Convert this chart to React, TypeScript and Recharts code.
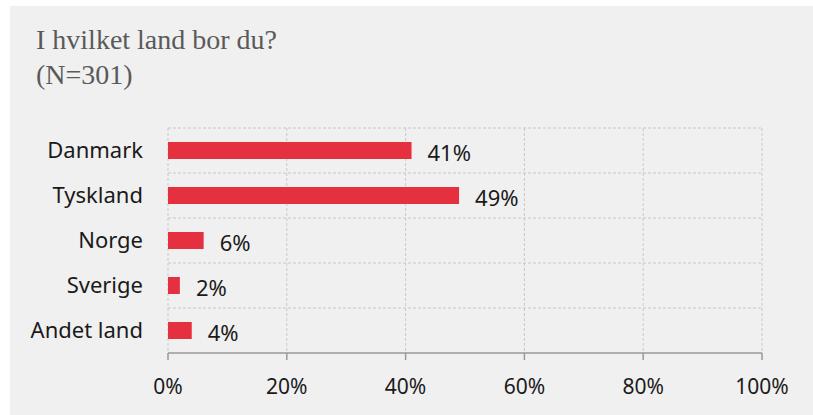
import {
	Bar,
	BarChart,
	CartesianGrid,
	LabelList,
	XAxis,
	YAxis,
} from "recharts";

const lande = ["Danmark", "Tyskland", "Norge", "Sverige", "Andet land"];
const andele = [41, 49, 6, 2, 4];
const xTicks = [0, 20, 40, 60, 80, 100];

const data = lande.map((land, i) => ({ land, andel: andele[i] }));

const FONT = "'Noto Sans', 'Open Sans', sans-serif";
const TOP = 128;
const BOTTOM = 62;

export default function App() {
	return (
		<div style={{ position: "fixed", left: 0, top: 0, width: 813, height: 415, background: "#ffffff" }}>
			<div style={{ position: "absolute", left: 10, top: 6, right: 0, bottom: 0, background: "#f0f0f0" }} />
			<div
				style={{
					position: "absolute",
					left: 36,
					top: 22,
					fontFamily: "'Liberation Serif', 'Times New Roman', serif",
					fontSize: 28,
					lineHeight: "35px",
					color: "#5a5a5a",
				}}
			>
				<div>I hvilket land bor du?</div>
				<div>(N=301)</div>
			</div>
			<BarChart
				width={813}
				height={415}
				data={data}
				layout="vertical"
				margin={{ top: TOP, right: 51, bottom: 2, left: 0 }}
				style={{ position: "absolute", left: 0, top: 0 }}
			>
				<CartesianGrid
					stroke="#c8c8c8"
					strokeDasharray="3 2"
					horizontalCoordinatesGenerator={(props: any) => {
						const top = props?.offset?.top ?? TOP;
						const h = props?.offset?.height ?? 415 - TOP - BOTTOM;
						return lande.map((_, i) => top + (i * h) / lande.length);
					}}
				/>
				<XAxis
					type="number"
					domain={[0, 100]}
					ticks={xTicks}
					tickFormatter={(v) => `${v}%`}
					height={60}
					axisLine={{ stroke: "#999999", strokeWidth: 1.5 }}
					tickLine={{ stroke: "#999999", strokeWidth: 1.5 }}
					tickSize={7}
					tickMargin={19}
					tick={{ fill: "#1a1a1a", fontSize: 21, fontFamily: FONT }}
					interval={0}
				/>
				<YAxis
					type="category"
					dataKey="land"
					width={168}
					axisLine={false}
					tickLine={false}
					tickSize={0}
					tickMargin={25}
					tick={{ fill: "#1a1a1a", fontSize: 22, fontFamily: FONT }}
					interval={0}
				/>
				<Bar dataKey="andel" fill="#e5313f" barSize={17} isAnimationActive={false}>
					<LabelList
						dataKey="andel"
						position="right"
						offset={16}
						formatter={(v: any) => `${v}%`}
						style={{ fill: "#1a1a1a", fontSize: 22, fontFamily: FONT }}
						dy={3}
					/>
				</Bar>
			</BarChart>
		</div>
	);
}
